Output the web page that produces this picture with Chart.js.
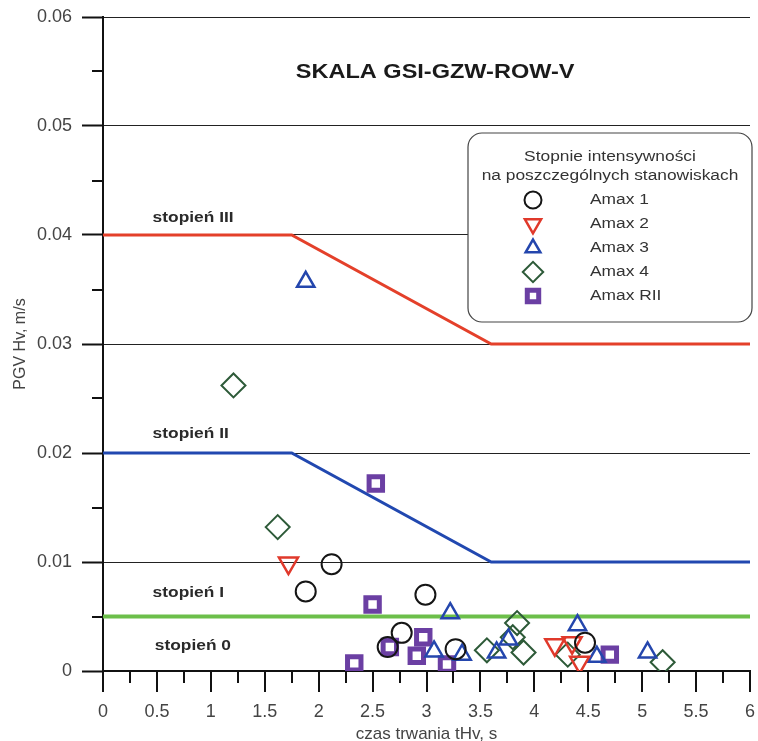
<!DOCTYPE html>
<html>
<head>
<meta charset="utf-8">
<script src="https://cdn.jsdelivr.net/npm/chart.js@4.4.1/dist/chart.umd.min.js"></script>
<style>
    body { margin: 0; background: #fff; }
    #wrap { width: 758px; height: 741px; }
</style>
</head>
<body>
<div id="wrap"><canvas id="grafico" width="758" height="741"></canvas></div>
<script>
// punkty pomiarowe (czas trwania tHv [s], PGV Hv [m/s])
const amax1X = [1.88, 2.12, 2.99, 2.77, 2.64, 3.27, 4.47];
const amax1Y = [0.0073, 0.0098, 0.0070, 0.0035, 0.0022, 0.0020, 0.0026];
const amax2X = [1.72, 4.19, 4.35, 4.42];
const amax2Y = [0.0099, 0.0024, 0.0026, 0.0008];
const amax3X = [1.88, 3.22, 3.07, 3.33, 3.65, 3.76, 4.40, 4.58, 5.05];
const amax3Y = [0.0357, 0.0053, 0.0018, 0.0015, 0.0017, 0.0029, 0.0042, 0.0013, 0.0017];
const amax4X = [1.21, 1.62, 3.56, 3.84, 3.80, 3.90, 4.31, 5.19];
const amax4Y = [0.0262, 0.0132, 0.0019, 0.0044, 0.0031, 0.0017, 0.0015, 0.0008];
const amaxRIIX = [2.53, 2.50, 2.33, 2.66, 2.97, 2.91, 3.19, 4.70];
const amaxRIIY = [0.0172, 0.0061, 0.0007, 0.0022, 0.0031, 0.0014, 0.0006, 0.0015];

// granice stopni
const stopien3X = [0, 1.75, 3.6, 6];
const stopien3Y = [0.04, 0.04, 0.03, 0.03];
const stopien2X = [0, 1.75, 3.6, 6];
const stopien2Y = [0.02, 0.02, 0.01, 0.01];
const stopien1X = [0, 6];
const stopien1Y = [0.005, 0.005];

const bandNames = ['stopień III', 'stopień II', 'stopień I', 'stopień 0'];
const bandNameX = [0.46, 0.46, 0.46, 0.48];
const bandNameY = [0.0416, 0.0218, 0.0072, 0.0023];

const seriesNames = ['Amax 1', 'Amax 2', 'Amax 3', 'Amax 4', 'Amax RII'];
const legendTitle = ['Stopnie intensywności', 'na poszczególnych stanowiskach'];
const chartTitle = 'SKALA GSI-GZW-ROW-V';
const titleX = 3.08, titleY = 0.0549;

const xMinor = [0.25, 0.75, 1.25, 1.75, 2.25, 2.75, 3.25, 3.75, 4.25, 4.75, 5.25, 5.75];
const yMinor = [0.005, 0.015, 0.025, 0.035, 0.045, 0.055];

const fontName = '"Liberation Sans", Arial, sans-serif';
const estirar = 1.12; // tekst w oryginale jest nieco rozciągnięty w poziomie

function puntos(xs, ys) {
    return xs.map(function (x, i) { return { x: x, y: ys[i] }; });
}

const estilos = [
    { pointStyle: 'circle', radius: 10, rotation: 0, color: '#151515', fill: 'rgba(0,0,0,0)', width: 2 },
    { pointStyle: 'triangle', radius: 11, rotation: 180, color: '#e0392b', fill: 'rgba(0,0,0,0)', width: 2.5 },
    { pointStyle: 'triangle', radius: 10, rotation: 0, color: '#2446ad', fill: 'rgba(0,0,0,0)', width: 2.5 },
    { pointStyle: 'rectRot', radius: 12, rotation: 0, color: '#2d5a38', fill: 'rgba(0,0,0,0)', width: 2 },
    { pointStyle: 'rect', radius: 9.5, rotation: 0, color: '#6b3fa3', fill: '#ffffff', width: 5 }
];

const seriesData = [
    puntos(amax1X, amax1Y),
    puntos(amax2X, amax2Y),
    puntos(amax3X, amax3Y),
    puntos(amax4X, amax4Y),
    puntos(amaxRIIX, amaxRIIY)
];

let datasets = [];
seriesData.forEach(function (d, i) {
    const e = estilos[i];
    datasets.push({
        label: seriesNames[i],
        data: d,
        pointStyle: e.pointStyle,
        pointRadius: e.radius,
        pointRotation: e.rotation,
        pointBorderColor: e.color,
        pointBackgroundColor: e.fill,
        pointBorderWidth: e.width,
        showLine: false,
        order: 1
    });
});

const lineas = [
    [puntos(stopien3X, stopien3Y), '#e4402a', 3],
    [puntos(stopien2X, stopien2Y), '#2148b0', 3],
    [puntos(stopien1X, stopien1Y), '#6cbf4a', 4]
];
lineas.forEach(function (l) {
    datasets.push({
        type: 'line',
        data: l[0],
        borderColor: l[1],
        borderWidth: l[2],
        pointRadius: 0,
        tension: 0,
        fill: false,
        order: 10
    });
});

function marcador(ctx, e, x, y) {
    ctx.save();
    ctx.strokeStyle = e.color;
    ctx.fillStyle = e.fill;
    ctx.lineWidth = e.width;
    if (Chart.helpers && Chart.helpers.drawPoint) {
        Chart.helpers.drawPoint(ctx, {
            pointStyle: e.pointStyle, radius: e.radius * 0.85,
            rotation: e.rotation, borderWidth: e.width
        }, x, y);
    } else {
        ctx.beginPath();
        ctx.arc(x, y, e.radius * 0.85, 0, Math.PI * 2);
        ctx.fill();
        ctx.stroke();
    }
    ctx.restore();
}

function texto(ctx, t, x, y) {
    ctx.save();
    ctx.translate(x, y);
    ctx.scale(estirar, 1);
    ctx.fillText(t, 0, 0);
    ctx.restore();
}

const decoracion = {
    id: 'decoracion',
    afterDraw: function (chart) {
        const ctx = chart.ctx;
        const sx = chart.scales.x;
        const sy = chart.scales.y;
        const area = chart.chartArea;

        ctx.save();
        // podziałki osi X (główne i pomocnicze)
        ctx.strokeStyle = '#111';
        ctx.lineWidth = 2;
        ctx.beginPath();
        sx.ticks.forEach(function (t) {
            const px = Math.round(sx.getPixelForValue(t.value));
            ctx.moveTo(px, area.bottom);
            ctx.lineTo(px, area.bottom + 21);
        });
        xMinor.forEach(function (v) {
            const px = Math.round(sx.getPixelForValue(v));
            ctx.moveTo(px, area.bottom);
            ctx.lineTo(px, area.bottom + 12);
        });
        yMinor.forEach(function (v) {
            const py = Math.round(sy.getPixelForValue(v));
            ctx.moveTo(area.left - 11, py);
            ctx.lineTo(area.left, py);
        });
        ctx.stroke();

        // tytuł
        ctx.fillStyle = '#1a1a1a';
        ctx.font = 'bold 21px ' + fontName;
        ctx.textAlign = 'center';
        ctx.textBaseline = 'middle';
        texto(ctx, chartTitle, sx.getPixelForValue(titleX), sy.getPixelForValue(titleY));

        // opisy stopni
        ctx.font = 'bold 15.5px ' + fontName;
        ctx.textAlign = 'left';
        ctx.fillStyle = '#2a2a2a';
        bandNames.forEach(function (t, i) {
            texto(ctx, t, sx.getPixelForValue(bandNameX[i]), sy.getPixelForValue(bandNameY[i]));
        });

        // legenda
        const bx = 468, by = 133, bw = 284, bh = 189, r = 14;
        ctx.beginPath();
        ctx.moveTo(bx + r, by);
        ctx.lineTo(bx + bw - r, by);
        ctx.arcTo(bx + bw, by, bx + bw, by + r, r);
        ctx.lineTo(bx + bw, by + bh - r);
        ctx.arcTo(bx + bw, by + bh, bx + bw - r, by + bh, r);
        ctx.lineTo(bx + r, by + bh);
        ctx.arcTo(bx, by + bh, bx, by + bh - r, r);
        ctx.lineTo(bx, by + r);
        ctx.arcTo(bx, by, bx + r, by, r);
        ctx.closePath();
        ctx.fillStyle = '#ffffff';
        ctx.fill();
        ctx.strokeStyle = '#444';
        ctx.lineWidth = 1.2;
        ctx.stroke();

        ctx.fillStyle = '#333';
        ctx.font = '15.5px ' + fontName;
        ctx.textAlign = 'center';
        texto(ctx, legendTitle[0], bx + bw / 2, by + 24);
        texto(ctx, legendTitle[1], bx + bw / 2, by + 43);

        ctx.textAlign = 'left';
        seriesNames.forEach(function (n, i) {
            const yy = by + 67 + i * 24;
            marcador(ctx, estilos[i], bx + 65, yy);
            ctx.fillStyle = '#333';
            texto(ctx, n, bx + 122, yy);
        });
        ctx.restore();
    }
};

new Chart(document.getElementById('grafico'), {
    type: 'scatter',
    data: { datasets: datasets },
    plugins: [decoracion],
    options: {
        responsive: false,
        animation: false,
        layout: { autoPadding: false, padding: { top: 17, right: 8, left: 0, bottom: 0 } },
        plugins: {
            legend: { display: false },
            tooltip: { enabled: false }
        },
        scales: {
            x: {
                type: 'linear',
                min: 0,
                max: 6,
                afterFit: function (scale) {
                    scale.height = 70;
                    scale.paddingLeft = 0;
                    scale.paddingRight = 0;
                },
                ticks: {
                    stepSize: 0.5,
                    padding: 0,
                    color: '#444',
                    font: { family: fontName, size: 18 },
                    maxRotation: 0,
                    autoSkip: false,
                    callback: function (v) { return String(v); }
                },
                grid: {
                    drawOnChartArea: false,
                    tickLength: 30,
                    tickColor: 'rgba(0,0,0,0)'
                },
                border: { color: '#111', width: 2 },
                title: {
                    display: true,
                    text: 'czas trwania tHv, s',
                    color: '#444',
                    font: { family: fontName, size: 17 },
                    padding: { top: 0, bottom: -4 }
                }
            },
            y: {
                type: 'linear',
                min: 0,
                max: 0.06,
                afterFit: function (scale) {
                    scale.width = 103;
                    scale.paddingTop = 0;
                    scale.paddingBottom = 0;
                },
                ticks: {
                    stepSize: 0.01,
                    padding: 10,
                    color: '#444',
                    font: { family: fontName, size: 18 },
                    callback: function (v) { return v === 0 ? '0' : v.toFixed(2); }
                },
                grid: {
                    color: function (c) { return c.tick && c.tick.value === 0 ? 'rgba(0,0,0,0)' : '#222'; },
                    lineWidth: 1,
                    tickLength: 21,
                    tickColor: '#111',
                    tickWidth: 2
                },
                border: { color: '#111', width: 2 },
                title: {
                    display: true,
                    text: 'PGV Hv, m/s',
                    color: '#444',
                    font: { family: fontName, size: 16 },
                    padding: { top: 11, bottom: 0 }
                }
            }
        }
    }
});
</script>
</body>
</html>
